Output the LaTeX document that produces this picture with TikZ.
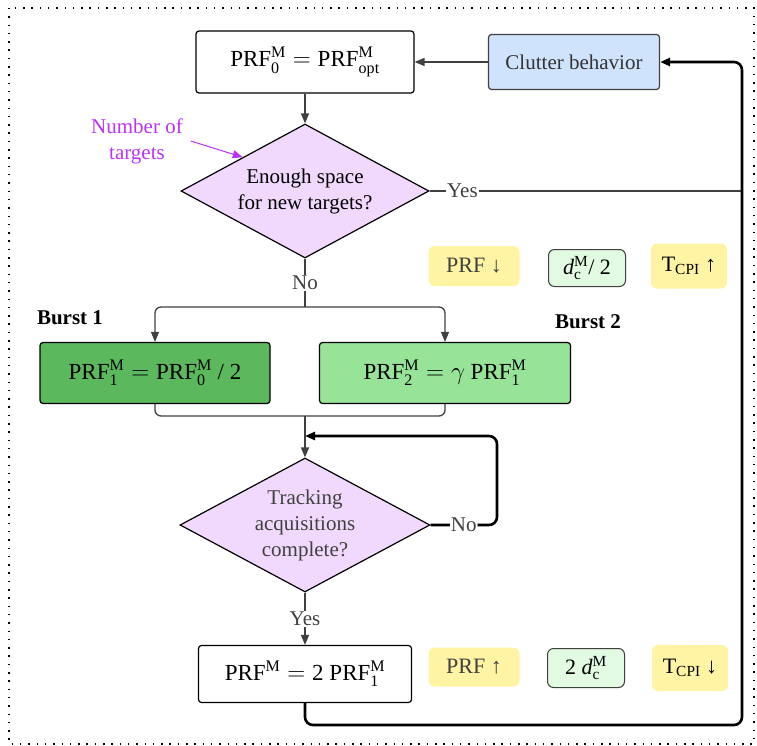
\documentclass[tikz,border=0pt]{standalone}
\usepackage{fontspec}
\setmainfont{Liberation Serif}
\usetikzlibrary{arrows.meta,shapes.geometric,calc}
\definecolor{dgrey}{HTML}{404040}
\definecolor{cblue}{HTML}{D0E3FC}
\definecolor{dmauve}{HTML}{F0D9FC}
\definecolor{bgreen}{HTML}{5CB85C}
\definecolor{lgreen}{HTML}{97E397}
\definecolor{tgreen}{HTML}{E2F9E2}
\definecolor{tyellow}{HTML}{FFF4A3}
\definecolor{npurple}{HTML}{BB33F5}
\tikzset{
  >={Triangle[length=10pt,width=8pt]},
  every picture/.style={line width=1.2pt},
  txt/.style={font=\fontsize{21}{26}\selectfont},
  mtxt/.style={font=\fontsize{23}{28}\selectfont},
  box/.style={draw,rounded corners=3pt,inner sep=2pt},
  dec/.style={txt,diamond,draw,fill=dmauve,inner sep=0pt,aspect=1.85,align=center},
  tag/.style={font=\fontsize{22}{27}\selectfont,fill=tyellow,rounded corners=6pt,inner sep=2pt},
  dtag/.style={font=\fontsize{22}{27}\selectfont,draw=dgrey,fill=tgreen,rounded corners=6pt,inner sep=2pt,line width=1pt},
  lbl/.style={txt,fill=white,text=dgrey,inner sep=1pt},
  ln/.style={draw=dgrey,line width=1.3pt},
  fb/.style={draw=black,line width=2.6pt,rounded corners=8pt},
  frame/.style={line width=1.5pt,dash pattern=on 1.5pt off 6.8pt},
}
\newcommand{\prf}[2]{\mathrm{PRF}^{\mathrm{M}}_{\mathrm{#1}}}
\newcommand{\dcm}{\textit{d\/}$^{\mathrm{M}}_{\mathrm{c}}$}
\begin{document}
\begin{tikzpicture}[x=1pt,y=-1pt]
\useasboundingbox (0,0) rectangle (757,746);
\draw[frame] (9,8) rectangle (754,744);
% main column
\node[box,mtxt,minimum width=218pt,minimum height=62pt] (p0) at (305,62){$\prf{0}{} = \prf{opt}{}$};
\node[box,txt,draw=dgrey,fill=cblue,text=dgrey!80!black,minimum width=171pt,minimum height=55pt] (cl) at (574,62){Clutter behavior};
\node[dec,minimum width=248pt,minimum height=134pt] (d1) at (305,191){Enough space\\for new targets?};
\node[txt,text=npurple,align=center] (nt) at (137,141){Number of\\targets};
\node[box,mtxt,fill=bgreen,minimum width=230pt,minimum height=61pt] (b1) at (155,373){$\prf{1}{} = \prf{0}{}$ / 2};
\node[box,mtxt,fill=lgreen,minimum width=251pt,minimum height=61pt] (b2) at (445,373){$\prf{2}{} = \gamma\ \prf{1}{}$};
\node[txt,font=\fontsize{21}{26}\selectfont\bfseries] (l1) at (70,318){Burst 1};
\node[txt,font=\fontsize{21}{26}\selectfont\bfseries] (l2) at (588,322){Burst 2};
\node[dec,text=dgrey,minimum width=250pt,minimum height=134pt] (d2) at (305,525){Tracking\\acquisitions\\complete?};
\node[box,mtxt,minimum width=213pt,minimum height=57pt] (pf) at (305,674){$\mathrm{PRF}^{\mathrm{M}} = \mathrm{2}\ \prf{1}{}$};
% tags
\node[tag,text=dgrey,minimum width=91pt,minimum height=40pt] (t1) at (474,266){PRF ↓};
\node[dtag,minimum width=77pt,minimum height=37pt] (t2) at (587,268){\dcm/ 2};
\node[tag,minimum width=76pt,minimum height=45pt] (t3) at (689,266){T$_{\mathrm{CPI}}$ ↑};
\node[tag,text=dgrey,minimum width=91pt,minimum height=39pt] (t4) at (474,667){PRF ↑};
\node[dtag,minimum width=77pt,minimum height=39pt] (t5) at (586,668){2 \dcm};
\node[tag,minimum width=76pt,minimum height=46pt] (t6) at (690,668){T$_{\mathrm{CPI}}$ ↓};
% helper points
\coordinate (sp) at (305,307); \coordinate (mg) at (305,416); \coordinate (lp) at (305,436);
\coordinate (nr) at (497,525); \coordinate (rb) at (742,725); \coordinate (rt) at (742,62);
\coordinate (ry) at (742,191);
% connectors
\draw[ln,->] (cl) -- (p0); \draw[ln,->] (p0) -- (d1);
\draw[->,draw=npurple,line width=1pt] (nt.east) ++(4,0) -- (d1.north west);
\draw[ln] (d1.east) -- node[lbl,pos=0.105]{Yes} (ry);
\draw[ln] (d1.south) -- node[lbl]{No} (sp);
\draw[ln,->,rounded corners=6pt] (sp) -| (b1.north); \draw[ln,->,rounded corners=6pt] (sp) -| (b2.north);
\draw[ln,rounded corners=6pt] (b1.south) |- (mg); \draw[ln,rounded corners=6pt] (b2.south) |- (mg);
\draw[ln,->] (mg) -- (d2.north);
\draw[fb,->] (d2.east) -- node[lbl,draw=none]{No} (nr) |- (lp);
\draw[ln,->] (d2.south) -- node[lbl]{Yes} (pf.north);
\draw[fb,->] (pf.south) |- (rb) -- (rt) -- (cl.east);
\end{tikzpicture}
\end{document}
